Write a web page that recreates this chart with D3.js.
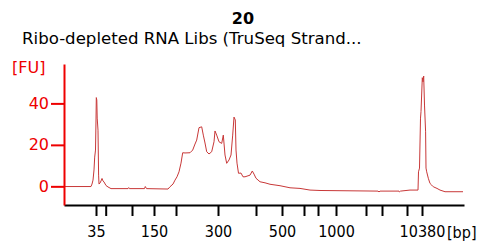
<!DOCTYPE html>
<html>
<head>
<meta charset="utf-8">
<script src="https://cdn.jsdelivr.net/npm/d3@7"></script>
<style>
  body { margin: 0; background: #fff; }
  svg { font-family: "DejaVu Sans", sans-serif; }
  .trace { fill: none; stroke: #c83838; stroke-width: 1; }
</style>
</head>
<body>
<svg width="495" height="246"></svg>
<script>
const title = "20"
const subtitle = "Ribo-depleted RNA Libs (TruSeq Strand..."

// ladder: fragment size [bp] and migration time [s]
const ladderBp = [35, 50, 100, 150, 200, 300, 400, 500, 600, 700, 1000, 2000, 3000, 7000, 10380]
const ladderTime = [46.4, 48.34, 53.6, 58.0, 62.4, 70.8, 78.4, 83.6, 88.0, 90.8, 94.4, 100.4, 103.6, 108.6, 111.6]
const labelBp = [35, 150, 300, 500, 1000, 10380]

const fuTicks = [0, 20, 40]

// electropherogram trace: time [s] and fluorescence [FU]
const time = [40.0, 45.4, 45.6, 45.8, 46.0, 46.14, 46.3, 46.4, 46.46, 46.56, 46.64, 46.8, 46.92, 47.0, 47.2, 47.4, 47.6, 47.8, 48.0, 48.4, 48.8, 49.4,
  52.8, 52.94, 53.06, 56.1, 56.26, 56.5, 60.8, 61.2, 61.8, 62.2, 62.6, 63.0, 63.4, 63.74, 64.2, 65.2, 65.74, 66.2, 66.54, 67.0, 67.54, 67.86,
  68.2, 68.54, 69.0, 69.54, 70.0, 70.2, 70.54, 71.0, 71.54, 71.86, 72.2, 72.54, 73.0, 73.4, 73.74, 74.0, 74.26, 74.4, 74.6, 74.9, 75.4, 75.8,
  76.2, 77.2, 77.66, 78.0, 78.4, 79.2, 80.2, 81.2, 83.2, 85.2, 87.2, 89.2, 91.2, 102.8, 103.0, 103.2, 107.0, 107.1, 107.3, 109.2, 110.8,
  110.9, 111.1, 111.3, 111.4, 111.66, 111.8, 111.94, 112.1, 112.32, 112.4, 112.54, 112.86, 113.2, 113.54, 113.86, 114.6, 115.2, 116.2, 119.8]
const fu = [-0.1, -0.1, 1.1, 3.0, 7.9, 14.1, 17.5, 32, 42.8, 41.6, 32.9, 27.1, 5.4, 1.1, 1.6, 2.6, 3.8, 2.6, 2.1, 0.4, -0.3, -1.1,
  -1.1, -0.6, -1.1, -1.1, -0.1, -1.1, -1.3, -0.2, 1.1, 3.0, 4.6, 7.0, 11.2, 16.2, 16.1, 16.2, 17.5, 20.4, 22.3, 28.3, 28.7, 24.7,
  20.9, 16.7, 15.6, 16.7, 21.5, 26.7, 24.7, 21.5, 20.7, 24.7, 15.1, 11.1, 12.7, 15.1, 24.7, 33.4, 32.0, 17.5, 11.2, 6.3, 6.4, 4.6,
  4.6, 5.4, 7.4, 5.9, 3.9, 2.2, 1.7, 1.0, 0.3, -0.7, -1.0, -1.8, -2.0, -2.3, -2.7, -2.3, -2.3, -2.7, -2.3, -1.8, -1.8,
  7.0, 8.8, 32.9, 36.0, 52.4, 50.4, 53.2, 39.2, 26.3, 8.8, 7.0, 3.9, 1.4, 0.6, -0.2, -1.0, -1.8, -2.6, -2.6]

const svg = d3.select("svg")

const x = d3.scaleLinear()
    .domain([40, 120])
    .range([64, 464])

const y = d3.scaleLinear()
    .domain([-9, 59])
    .range([205, 64])

// titles
svg.append("text")
    .attr("x", 243)
    .attr("y", 24)
    .attr("text-anchor", "middle")
    .style("font-weight", "bold")
    .style("font-size", "16px")
    .text(title)

svg.append("text")
    .attr("x", 22)
    .attr("y", 44)
    .style("font-size", "16.6px")
    .text(subtitle)

// trace
const points = time.map((t, i) => [t, fu[i]])
const line = d3.line()
    .x(d => x(d[0]))
    .y(d => y(d[1]))

svg.append("path")
    .datum(points)
    .attr("class", "trace")
    .attr("d", line)

// x axis (ladder positions)
const xAxis = svg.append("g")
    .attr("transform", `translate(0, ${y.range()[0]})`)
    .call(d3.axisBottom(x)
        .tickValues(ladderTime)
        .tickSize(11)
        .tickSizeOuter(0)
        .tickFormat((d, i) => labelBp.includes(ladderBp[i]) ? ladderBp[i] : ""))

xAxis.select(".domain").attr("stroke", "#000").attr("stroke-width", 2)
xAxis.selectAll(".tick line").attr("stroke", "#000").attr("stroke-width", 2)
xAxis.selectAll(".tick text")
    .attr("y", 21)
    .attr("dy", "0.71em")
    .attr("fill", "#000")
    .style("font-size", "16px")
    .style("font-family", "DejaVu Sans Condensed, DejaVu Sans, sans-serif")

svg.append("text")
    .attr("x", 447)
    .attr("y", 238)
    .style("font-size", "16px")
    .style("font-family", "DejaVu Sans Condensed, DejaVu Sans, sans-serif")
    .text("[bp]")

// y axis
const yAxis = svg.append("g")
    .attr("transform", `translate(${x.range()[0]}, 0)`)
    .call(d3.axisLeft(y)
        .tickValues(fuTicks)
        .tickSize(13)
        .tickSizeOuter(0))

yAxis.select(".domain").attr("stroke", "#e00").attr("stroke-width", 2)
yAxis.selectAll(".tick line").attr("stroke", "#e00").attr("stroke-width", 2)
yAxis.selectAll(".tick text")
    .attr("x", -15)
    .attr("fill", "#e00")
    .style("font-size", "16px")
    .style("font-family", "DejaVu Sans, sans-serif")

svg.append("text")
    .attr("x", 12)
    .attr("y", 73)
    .attr("fill", "#e00")
    .style("font-size", "16px")
    .text("[FU]")
</script>
</body>
</html>
